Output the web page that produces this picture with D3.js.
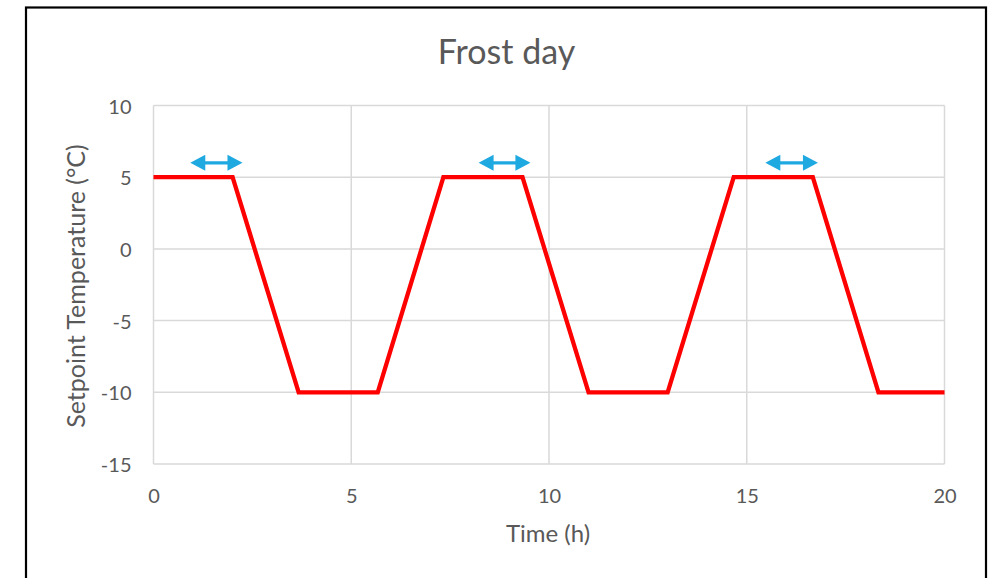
<!DOCTYPE html>
<html>
<head>
<meta charset="utf-8">
<script src="https://cdn.jsdelivr.net/npm/d3@7"></script>
<style>
  html, body { margin: 0; padding: 0; background: #fff; }
  svg { display: block; }
  text { font-family: Lato, "Open Sans", sans-serif; fill: #595959; }
</style>
</head>
<body>
<svg id="chart" width="995" height="578"></svg>
<script>
// Setpoint schedule: time (h) and temperature (°C)
const timeHours = [0, 2, 3.67, 5.67, 7.33, 9.33, 11, 13, 14.67, 16.67, 18.33, 20];
const setpointC = [5, 5, -10, -10, 5, 5, -10, -10, 5, 5, -10, -10];

// Double-headed arrows above each warm plateau
const arrowStart = [0.93, 8.22, 15.47];
const arrowEnd = [2.25, 9.53, 16.8];
const arrowLevel = [6, 6, 6];

const xTicks = [0, 5, 10, 15, 20];
const yTicks = [-15, -10, -5, 0, 5, 10];

const svg = d3.select("#chart");
const plotLeft = 153.5, plotRight = 944.5, plotTop = 105.5, plotBottom = 464;

const x = d3.scaleLinear().domain([0, 20]).range([plotLeft, plotRight]);
const y = d3.scaleLinear().domain([-15, 10]).range([plotBottom, plotTop]);

// Chart frame
svg.append("rect")
  .attr("x", 26).attr("y", 7.5).attr("width", 960).attr("height", 600)
  .attr("fill", "none").attr("stroke", "#000").attr("stroke-width", 2.2);

// Gridlines
const grid = svg.append("g").attr("stroke", "#d9d9d9").attr("stroke-width", 1.5);
grid.selectAll("line.h").data(yTicks).join("line")
  .attr("x1", plotLeft).attr("x2", plotRight)
  .attr("y1", d => y(d)).attr("y2", d => y(d));
grid.selectAll("line.v").data(xTicks).join("line")
  .attr("y1", plotTop).attr("y2", plotBottom)
  .attr("x1", d => x(d)).attr("x2", d => x(d));

// Axes (plain hyphen for negatives)
const fmt = d => String(d);
const xAxis = svg.append("g").attr("transform", `translate(0,${plotBottom})`)
  .call(d3.axisBottom(x).tickValues(xTicks).tickSize(0).tickFormat(fmt));
const yAxis = svg.append("g").attr("transform", `translate(${plotLeft},0)`)
  .call(d3.axisLeft(y).tickValues(yTicks).tickSize(0).tickPadding(22).tickFormat(fmt));
[xAxis, yAxis].forEach(a => {
  a.select(".domain").remove();
  a.selectAll("text").style("font-size", "20px").attr("fill", "#595959");
});
xAxis.selectAll("text").attr("y", 39).attr("dy", 0);
yAxis.selectAll("text").attr("dy", 7.5);

// Setpoint line
const pts = timeHours.map((t, i) => [t, setpointC[i]]);
svg.append("path")
  .datum(pts)
  .attr("fill", "none")
  .attr("stroke", "#ff0000")
  .attr("stroke-width", 4.3)
  .attr("stroke-linejoin", "miter")
  .attr("d", d3.line().x(d => x(d[0])).y(d => y(d[1])));

// Arrows
const arrows = svg.append("g").attr("fill", "#1fa9e1").attr("stroke", "none");
arrowStart.forEach((s, i) => {
  const x0 = x(s), x1 = x(arrowEnd[i]), yy = y(arrowLevel[i]);
  const hl = 15, hh = 8, sw = 1.6;
  const path = `M${x0},${yy} L${x0 + hl},${yy - hh} L${x0 + hl},${yy - sw} L${x1 - hl},${yy - sw} L${x1 - hl},${yy - hh} L${x1},${yy} L${x1 - hl},${yy + hh} L${x1 - hl},${yy + sw} L${x0 + hl},${yy + sw} L${x0 + hl},${yy + hh} Z`;
  arrows.append("path").attr("d", path);
});

// Titles
svg.append("text").attr("x", 506.5).attr("y", 64).attr("text-anchor", "middle")
  .style("font-size", "34px").text("Frost day");
svg.append("text").attr("x", 548).attr("y", 541.5).attr("text-anchor", "middle")
  .style("font-size", "24px").text("Time (h)");
svg.append("text").attr("transform", `translate(85,286) rotate(-90)`)
  .attr("text-anchor", "middle").style("font-size", "25px")
  .text("Setpoint Temperature (°C)");
</script>
</body>
</html>
